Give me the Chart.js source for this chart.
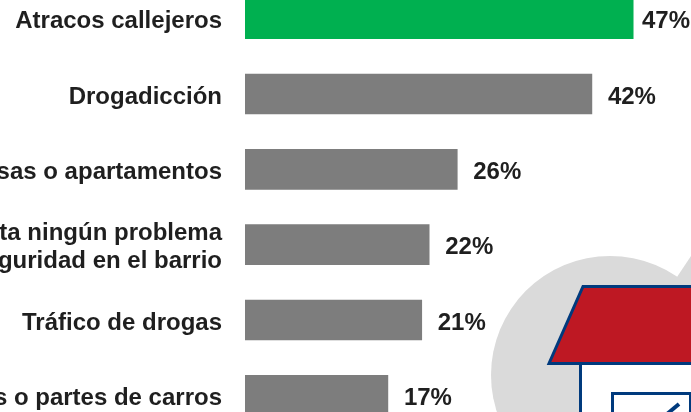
<!DOCTYPE html>
<html><head><meta charset="utf-8">
<style>
html,body{margin:0;padding:0;background:#fff;width:691px;height:412px;overflow:hidden}
#wrap{position:absolute;left:0;top:-56px;width:691px;height:526px}
</style>
<script src="https://cdn.jsdelivr.net/npm/chart.js@4"></script>
</head><body>
<div id="wrap"><canvas id="c" width="691" height="526"></canvas></div>
<script>
const categories = ["Atracos callejeros","Drogadicción","Robos a casas o apartamentos",["No se presenta ningún problema","de seguridad en el barrio"],"Tráfico de drogas","Robos de carros o partes de carros"];
const values = [47,42,25.7,22.3,21.4,17.3];
const barColors = ["#00b050","#7d7d7d","#7d7d7d","#7d7d7d","#7d7d7d","#7d7d7d"];
const FONT = '"Liberation Sans"';
const art = {
 id:'art',
 beforeDatasetsDraw(ch){
  const g=ch.ctx; g.save();
  g.translate(0,56);
  g.fillStyle='#dadada';
  g.beginPath(); g.arc(610,375,119,0,Math.PI*2); g.fill();
  g.beginPath(); g.moveTo(677,277); g.lineTo(691,256); g.lineTo(691,300); g.closePath(); g.fill();
  g.lineJoin='miter';
  g.strokeStyle='#003a7d'; g.lineWidth=3;
  g.fillStyle='#ffffff';
  g.beginPath(); g.rect(580.5,363,130,70); g.fill(); g.stroke();
  g.fillStyle='#be1823';
  g.beginPath(); g.moveTo(583,286.5); g.lineTo(720,286.5); g.lineTo(720,363.5); g.lineTo(549,363.5); g.closePath(); g.fill(); g.stroke();
  g.fillStyle='#ffffff';
  g.beginPath(); g.rect(612.5,393.5,78,40); g.fill(); g.stroke();
  g.lineWidth=4;
  g.beginPath(); g.moveTo(679,404); g.lineTo(667,414); g.stroke();
  g.restore();
 }
};
const valueLabels = {
 id:'valueLabels',
 afterDatasetsDraw(ch){
  const g=ch.ctx, m=ch.getDatasetMeta(0);
  g.save(); g.font='bold 24px '+FONT; g.fillStyle='#1f1f1f'; g.textBaseline='middle';
  m.data.forEach((b,i)=>{
   const t=Math.round(values[i])+'%';
   const w=g.measureText(t).width;
   g.fillText(t,Math.min(b.x+16,ch.width-w-1),b.y+3);
  });
  g.restore();
 }
};
new Chart(document.getElementById('c'),{
 type:'bar',
 data:{labels:categories,datasets:[{data:values,backgroundColor:barColors,borderWidth:0,barThickness:40}]},
 options:{
  indexAxis:'y',responsive:false,animation:false,
  layout:{padding:0,autoPadding:false},
  plugins:{legend:{display:false},tooltip:{enabled:false}},
  scales:{
   x:{min:0,max:54,display:false},
   y:{
    afterFit(s){s.width=245;},
    grid:{display:false,drawTicks:false},border:{display:false},
    ticks:{color:'#1f1f1f',padding:23,labelOffset:3,autoSkip:false,maxRotation:0,minRotation:0,font:{family:FONT,size:24,weight:'bold',lineHeight:1.17}}
   }
  }
 },
 plugins:[art,valueLabels]
});
</script>
</body></html>
